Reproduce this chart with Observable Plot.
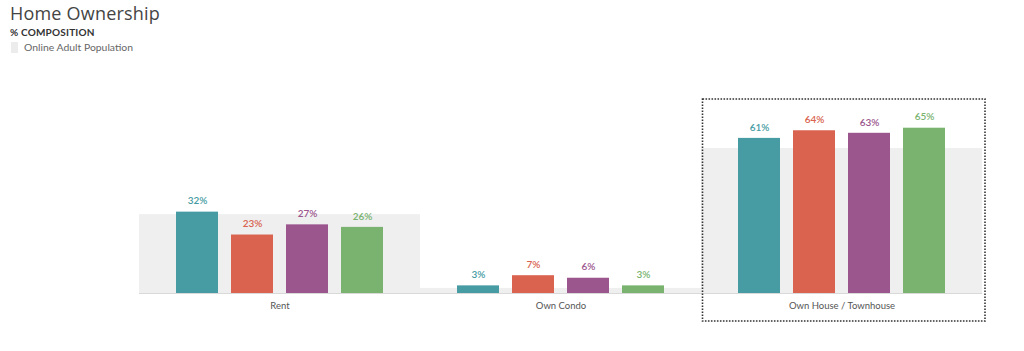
<!DOCTYPE html>
<html>
<head>
<meta charset="utf-8">
<script src="https://cdn.jsdelivr.net/npm/d3@7"></script>
<script src="https://cdn.jsdelivr.net/npm/@observablehq/plot@0.6"></script>
<style>
  html, body { margin: 0; padding: 0; background: #fff; }
  body { width: 1024px; height: 351px; overflow: hidden; font-family: Lato, "Open Sans", sans-serif; }
  #head { position: relative; height: 60px; }
  #title { position: absolute; left: 10px; top: 1px; font-family: "Open Sans", sans-serif; font-size: 18px; color: #444; letter-spacing: 0.2px; }
  #sub { position: absolute; left: 10px; top: 26px; font-size: 10px; font-weight: 700; color: #333; letter-spacing: 0.2px; }
  #legend { position: absolute; left: 11px; top: 41px; display: flex; align-items: center; font-size: 10.4px; color: #666; }
  #legend .sw { width: 7px; height: 11px; background: #ececec; margin-right: 6px; }
  #chart svg { display: block; }
</style>
</head>
<body>
<div id="head">
  <div id="title">Home Ownership</div>
  <div id="sub">% COMPOSITION</div>
  <div id="legend"><span class="sw"></span><span>Online Adult Population</span></div>
</div>
<div id="chart"></div>
<script>
// Housing categories along the bottom
const categories = ["Rent", "Own Condo", "Own House / Townhouse"];
// Audience segments drawn as coloured bars within each category
const series = ["Segment A", "Segment B", "Segment C", "Segment D"];
const seriesColors = ["#479ca3", "#d9634f", "#9b568d", "#79b36f"];
// Percent values, one list per category, in segment order
const rentValues = [32, 23, 27, 26];
const condoValues = [3, 7, 6, 3];
const houseValues = [61, 64, 63, 65];
// Online adult population baseline (grey backdrop)
const populationValues = [31, 2, 57];
// Category that gets the dotted highlight box
const highlighted = ["Own House / Townhouse"];

const valueLists = [rentValues, condoValues, houseValues];
const bars = categories.flatMap((c, i) =>
  series.map((s, j) => ({category: c, series: s, value: valueLists[i][j]}))
);
const population = categories.map((c, i) => ({category: c, value: populationValues[i]}));
const boxData = highlighted.map(c => ({category: c}));

const font = "Lato, 'Open Sans', sans-serif";

const chart = Plot.plot({
  width: 1024,
  height: 291,
  marginTop: 55,
  marginBottom: 58,
  marginLeft: 138,
  marginRight: 42,
  style: {fontFamily: font, background: "#fff", overflow: "visible"},
  fx: {domain: categories, padding: 0, label: null},
  x: {domain: series, paddingInner: 0.243, paddingOuter: 0.653, axis: null},
  y: {domain: [0, 70], axis: null},
  color: {domain: series, range: seriesColors},
  marks: [
    Plot.barY(population, {fx: "category", y: "value", fill: "#efefef"}),
    Plot.ruleY([0], {stroke: "#d9d9d9"}),
    Plot.barY(bars, {fx: "category", x: "series", y: "value", fill: "series"}),
    Plot.text(bars, {
      fx: "category", x: "series", y: "value",
      text: d => `${d.value}%`, fill: "series",
      dy: -11, fontSize: 10, fontWeight: 600
    }),
    Plot.axisFx({anchor: "bottom", tickSize: 0, tickPadding: 9, fontSize: 9.5, fill: "#555", label: null}),
    Plot.rect(boxData, {
      fx: "category", fill: "none", stroke: "#333",
      strokeWidth: 1.6, strokeDasharray: "1.6 1.4",
      insetTop: -16, insetBottom: -28, insetLeft: 1.5, insetRight: -3
    })
  ]
});
document.getElementById("chart").appendChild(chart);
</script>
</body>
</html>
